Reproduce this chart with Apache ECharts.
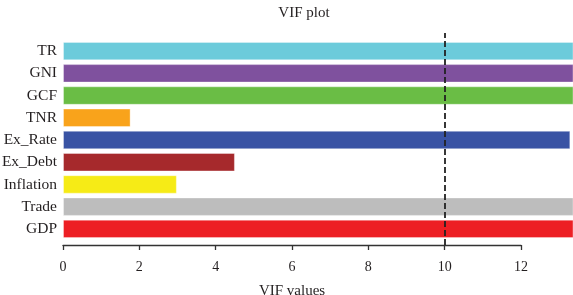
<!DOCTYPE html>
<html>
<head>
<meta charset="utf-8">
<script src="https://cdn.jsdelivr.net/npm/echarts@6/dist/echarts.min.js"></script>
<style>
  html, body { margin: 0; padding: 0; background: #fff; }
  #chart { width: 573px; height: 295px; }
</style>
</head>
<body>
<div id="chart"></div>
<script>
// variables, top to bottom as drawn
const categories = ['TR', 'GNI', 'GCF', 'TNR', 'Ex_Rate', 'Ex_Debt', 'Inflation', 'Trade', 'GDP'];
// VIF values (bars running past the frame are clipped at the right edge)
const vifValues = [20, 20, 20, 1.77, 13.28, 4.5, 2.98, 20, 20];
const barColors = ['#6ccbdb', '#7f519e', '#6abd45', '#f9a31b', '#3953a4', '#a6292c', '#f6eb16', '#bdbdbd', '#ed1f24'];
const tickValues = [0, 2, 4, 6, 8, 10, 12];
const threshold = 10;

const font = '"Liberation Serif", "DejaVu Serif", serif';
const ink = '#231f20';

const chart = echarts.init(document.getElementById('chart'));

const option = {
  animation: false,
  title: {
    text: 'VIF plot',
    left: 299,
    top: 1,
    textAlign: 'center',
    textStyle: { fontFamily: font, fontSize: 15, fontWeight: 'normal', color: ink }
  },
  grid: [
    // bars
    { left: 63, right: 0, top: 40, bottom: 55, outerBoundsMode: 'none', containLabel: false },
    // axis frame (0..12) + reference line
    { left: 63, right: 52, top: 33, bottom: 50, outerBoundsMode: 'none', containLabel: false }
  ],
  xAxis: [
    {
      gridIndex: 0, type: 'value', min: 0, max: 13.35,
      show: false
    },
    {
      gridIndex: 1, type: 'value', min: 0, max: 12, interval: 2,
      name: 'VIF values', nameLocation: 'middle', nameGap: 39,
      nameTextStyle: { fontFamily: font, fontSize: 15, color: ink },
      axisLine: { show: true, lineStyle: { color: '#333', width: 1.3 } },
      axisTick: { show: true, inside: false, length: 5, lineStyle: { color: '#333', width: 1.3 } },
      axisLabel: {
        fontFamily: font, fontSize: 14, color: ink, margin: 15,
        formatter: v => tickValues.includes(v) ? String(v) : ''
      },
      splitLine: { show: false }
    }
  ],
  yAxis: [
    {
      gridIndex: 0, type: 'category', data: categories, inverse: true,
      axisLine: { show: false },
      axisTick: { show: false },
      axisLabel: { fontFamily: font, fontSize: 15.5, color: ink, margin: 6 }
    },
    {
      gridIndex: 1, type: 'value', min: 0, max: 1, show: false
    }
  ],
  series: [
    {
      type: 'bar',
      xAxisIndex: 0, yAxisIndex: 0,
      barCategoryGap: '17%',
      clip: true,
      data: vifValues.map((v, i) => ({
        value: v,
        itemStyle: { color: barColors[i], borderColor: 'rgba(255,255,255,0.35)', borderWidth: 1 }
      }))
    },
    {
      type: 'line',
      xAxisIndex: 1, yAxisIndex: 1,
      data: [],
      markLine: {
        silent: true,
        symbol: 'none',
        label: { show: false },
        lineStyle: { color: '#222', type: [6, 3], width: 1.8 },
        data: [{ xAxis: threshold }]
      }
    }
  ]
};

chart.setOption(option);
</script>
</body>
</html>
